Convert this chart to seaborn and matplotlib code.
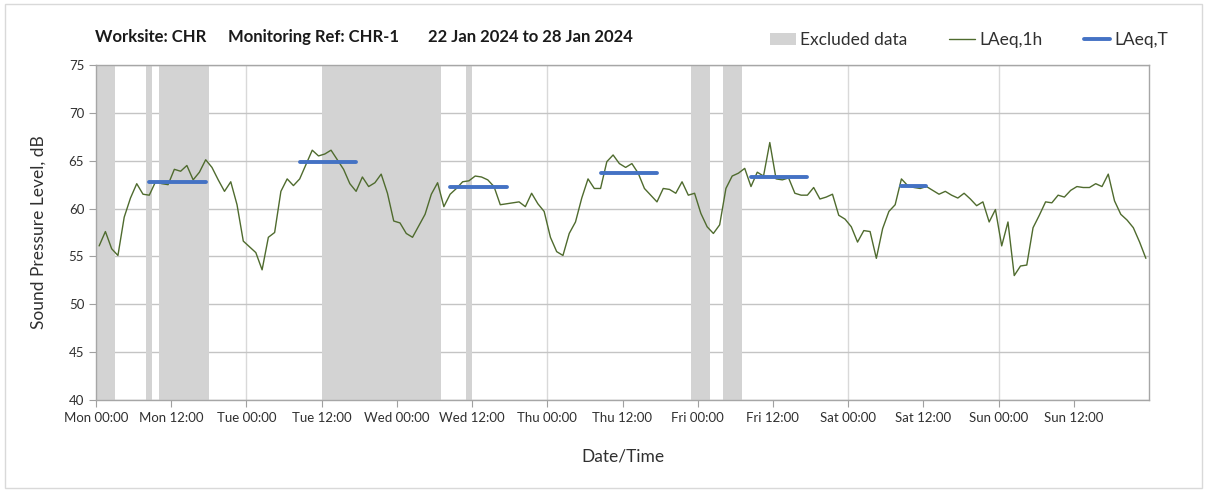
import pandas as pd
import matplotlib.pyplot as plt
import seaborn as sns
from matplotlib.patches import Patch, Rectangle
from matplotlib.lines import Line2D

# LAeq,1h values, one per hour from Mon 00:00 to Sun 23:00
hourly_laeq = [
    56.1, 57.6, 55.8, 55.1, 59.1, 61.1, 62.6, 61.5, 61.4, 62.8, 62.6, 62.5,
    64.1, 63.9, 64.5, 63.0, 63.8, 65.1, 64.3, 63.0, 61.8, 62.8, 60.4, 56.6,
    56.0, 55.4, 53.6, 57.0, 57.5, 61.8, 63.1, 62.4, 63.1, 64.6, 66.1, 65.5,
    65.7, 66.1, 65.1, 64.1, 62.6, 61.8, 63.3, 62.3, 62.7, 63.6, 61.6, 58.7,
    58.5, 57.4, 57.0, 58.2, 59.4, 61.5, 62.7, 60.2, 61.5, 62.1, 62.8, 62.9,
    63.4, 63.3, 63.0, 62.3, 60.4, 60.5, 60.6, 60.7, 60.2, 61.6, 60.5, 59.7,
    57.0, 55.5, 55.1, 57.4, 58.6, 61.1, 63.1, 62.1, 62.1, 64.9, 65.6, 64.7,
    64.3, 64.7, 63.7, 62.1, 61.4, 60.7, 62.1, 62.0, 61.6, 62.8, 61.4, 61.6,
    59.5, 58.1, 57.4, 58.3, 62.1, 63.4, 63.7, 64.2, 62.3, 63.8, 63.4, 66.9,
    63.1, 63.0, 63.2, 61.6, 61.4, 61.4, 62.2, 61.0, 61.2, 61.5, 59.3, 58.9,
    58.1, 56.5, 57.7, 57.6, 54.8, 57.9, 59.7, 60.4, 63.1, 62.4, 62.2, 62.1,
    62.3, 61.9, 61.5, 61.8, 61.4, 61.1, 61.6, 61.0, 60.3, 60.7, 58.6, 59.9,
    56.1, 58.6, 53.0, 54.0, 54.1, 58.0, 59.3, 60.7, 60.6, 61.4, 61.2, 61.9,
    62.3, 62.2, 62.2, 62.6, 62.3, 63.6, 60.8, 59.4, 58.8, 58.0, 56.5, 54.8,
]

# excluded periods (hours from Mon 00:00)
excluded_start = [0, 8, 10, 36, 59, 95, 100]
excluded_end = [3, 9, 18, 55, 60, 98, 103]

# LAeq,T over each working period
period_start = [8.5, 32.5, 56.5, 80.5, 104.5, 128.5]
period_end = [17.5, 41.5, 65.5, 89.5, 113.5, 132.5]
period_laeq = [62.8, 64.9, 62.3, 63.7, 63.3, 62.4]

days = ["Mon", "Tue", "Wed", "Thu", "Fri", "Sat", "Sun"]
tick_labels = [f"{d} {t}" for d in days for t in ["00:00", "12:00"]]

title_parts = ["Worksite: CHR", "Monitoring Ref: CHR-1", "22 Jan 2024 to 28 Jan 2024"]

green = "#4F6B2E"
blue = "#4472C4"
grey_span = "#D3D3D3"

sns.set_theme(style="white")
plt.rcParams["font.family"] = ["Lato", "DejaVu Sans"]

hourly_df = pd.DataFrame({
    "hour": [i + 0.5 for i in range(len(hourly_laeq))],
    "LAeq": hourly_laeq,
})
period_df = pd.DataFrame({
    "hour": period_start + period_end,
    "LAeq": period_laeq + period_laeq,
    "period": list(range(len(period_laeq))) * 2,
})

fig = plt.figure(figsize=(12.08, 4.92), dpi=100)
ax = fig.add_axes([96 / 1208, 1 - 400 / 492, (1149 - 96) / 1208, (400 - 65) / 492])

for s, e in zip(excluded_start, excluded_end):
    ax.axvspan(s, e, color=grey_span, lw=0, zorder=1)

sns.lineplot(data=hourly_df, x="hour", y="LAeq", color=green, lw=1.0, ax=ax, zorder=3)
sns.lineplot(data=period_df, x="hour", y="LAeq", units="period", estimator=None,
             color=blue, lw=2.8, ax=ax, zorder=4)

ax.set_xlim(0, 168)
ax.set_ylim(40, 75)
ax.set_yticks(range(40, 80, 5))
ax.set_xticks(range(0, 168, 12))
ax.set_xticklabels(tick_labels, fontsize=9.5, color="#303030")
ax.tick_params(axis="y", labelsize=9.5, labelcolor="#303030")
ax.tick_params(axis="both", length=5, width=0.8, color="#A0A0A0", direction="out",
               bottom=True, left=True)

ax.grid(axis="y", color="#C4C4C4", lw=1.0, zorder=0)
for d in range(24, 168, 24):
    ax.axvline(d, color="#D9D9D9", lw=1.0, zorder=0.5)
ax.set_axisbelow(True)
for side in ["left", "bottom", "top", "right"]:
    ax.spines[side].set_color("#A6A6A6")
    ax.spines[side].set_linewidth(1.0)

ax.set_xlabel("Date/Time", fontsize=12.5, color="#303030", labelpad=18)
ax.set_ylabel("Sound Pressure Level, dB", fontsize=12.5, color="#303030", labelpad=16)

for px, txt in zip([95, 228, 428], title_parts):
    fig.text(px / 1208, 1 - 37 / 492, txt, fontsize=12, fontweight="bold",
             color="#1A1A1A", va="center")

handles = [
    Patch(facecolor=grey_span, edgecolor="none"),
    Line2D([], [], color=green, lw=1.0),
    Line2D([], [], color=blue, lw=2.8),
]
fig.legend(handles, ["Excluded data", "LAeq,1h", "LAeq,T"], ncol=3, frameon=False,
           loc="center right", bbox_to_anchor=(1184 / 1208, 1 - 40 / 492),
           fontsize=12.5, handlelength=1.5, handletextpad=0.25, columnspacing=2.4,
           labelcolor="#303030")

fig.patches.append(Rectangle((5 / 1208, 4 / 492), 1197 / 1208, 484 / 492,
                             transform=fig.transFigure, fill=False,
                             edgecolor="#D9D9D9", lw=1.0))

fig.savefig("out.png", dpi=100, facecolor="white")
